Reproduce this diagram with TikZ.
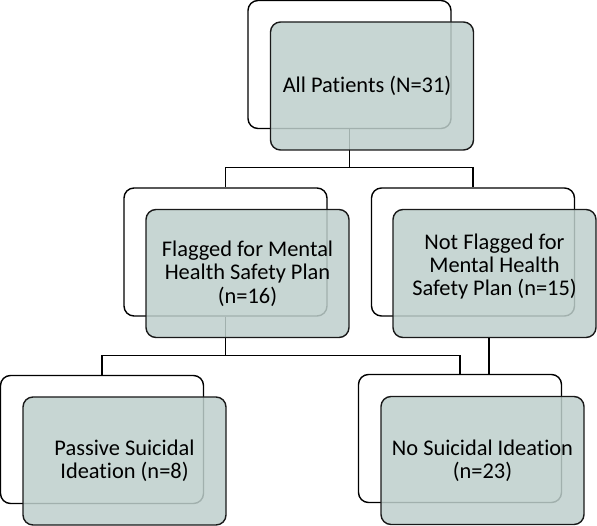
\documentclass[tikz,border=0pt]{standalone}
\usepackage{fontspec}
\setmainfont{Carlito}[Ligatures=NoCommon]
\usetikzlibrary{calc}
\definecolor{frontfill}{RGB}{190,207,204}
\definecolor{edge}{RGB}{25,25,25}
\tikzset{
  backbox/.style={draw=black, line width=1.4pt, fill=white, rounded corners=10pt,
    minimum width=203pt, minimum height=128pt, inner sep=0pt},
  frontbox/.style={draw=edge, line width=1.4pt, fill=frontfill, fill opacity=0.85, draw opacity=1,
    rounded corners=10pt, minimum width=203pt, minimum height=128pt, inner sep=0pt},
  label/.style={align=center, font=\fontsize{22.4}{23.3}\selectfont, text=black, inner sep=0pt},
  conn/.style={draw=black, line width=1.4pt}
}
\begin{document}
\begin{tikzpicture}[x=1pt,y=1pt]
\useasboundingbox (0,0) rectangle (597,-526);
% back boxes
\node[backbox] (tb) at (349.5,-64.5) {};
\node[backbox] (lb) at (225.5,-252) {};
\node[backbox] (rb) at (473,-252) {};
\node[backbox] (blb) at (102,-439.5) {};
\node[backbox] (brb) at (460,-438.5) {};
% connectors
\draw[conn] (tb.south) |- ($(lb.north)+(0,20)$) -- (lb.north);
\draw[conn] (tb.south) |- ($(rb.north)+(0,20)$) -- (rb.north);
\draw[conn] (lb.south) |- ($(blb.north)+(0,19)$) -- (blb.north);
\draw[conn] (lb.south) |- ($(brb.north)+(0,18)$) -- (brb.north);
% front boxes
\node[frontbox] (tf) at (372,-86) {};
\node[frontbox] (lf) at (247.5,-273.5) {};
\node[frontbox] (rf) at (494.5,-273.5) {};
\node[frontbox] (blf) at (124.5,-461) {};
\node[frontbox] (brf) at (482.5,-460.5) {};
\coordinate (rfout) at ([xshift=-5.5pt]rf.south);
\draw[conn] (rfout) -- (rfout |- brb.north);
% texts
\node[label] (tt) at ($(tf.center)+(-5,0)$) {All Patients (N=31)};
\node[label] (lt) at (lf.center) {Flagged for Mental\\Health Safety Plan\\(n=16)};
\node[label] (rt) at ($(rf.center)+(0,7)$) {Not Flagged for\\Mental Health\\Safety Plan (n=15)};
\node[label] (blt) at (blf.center) {Passive Suicidal\\Ideation (n=8)};
\node[label] (brt) at (brf.center) {No Suicidal Ideation\\(n=23)};
\end{tikzpicture}
\end{document}
